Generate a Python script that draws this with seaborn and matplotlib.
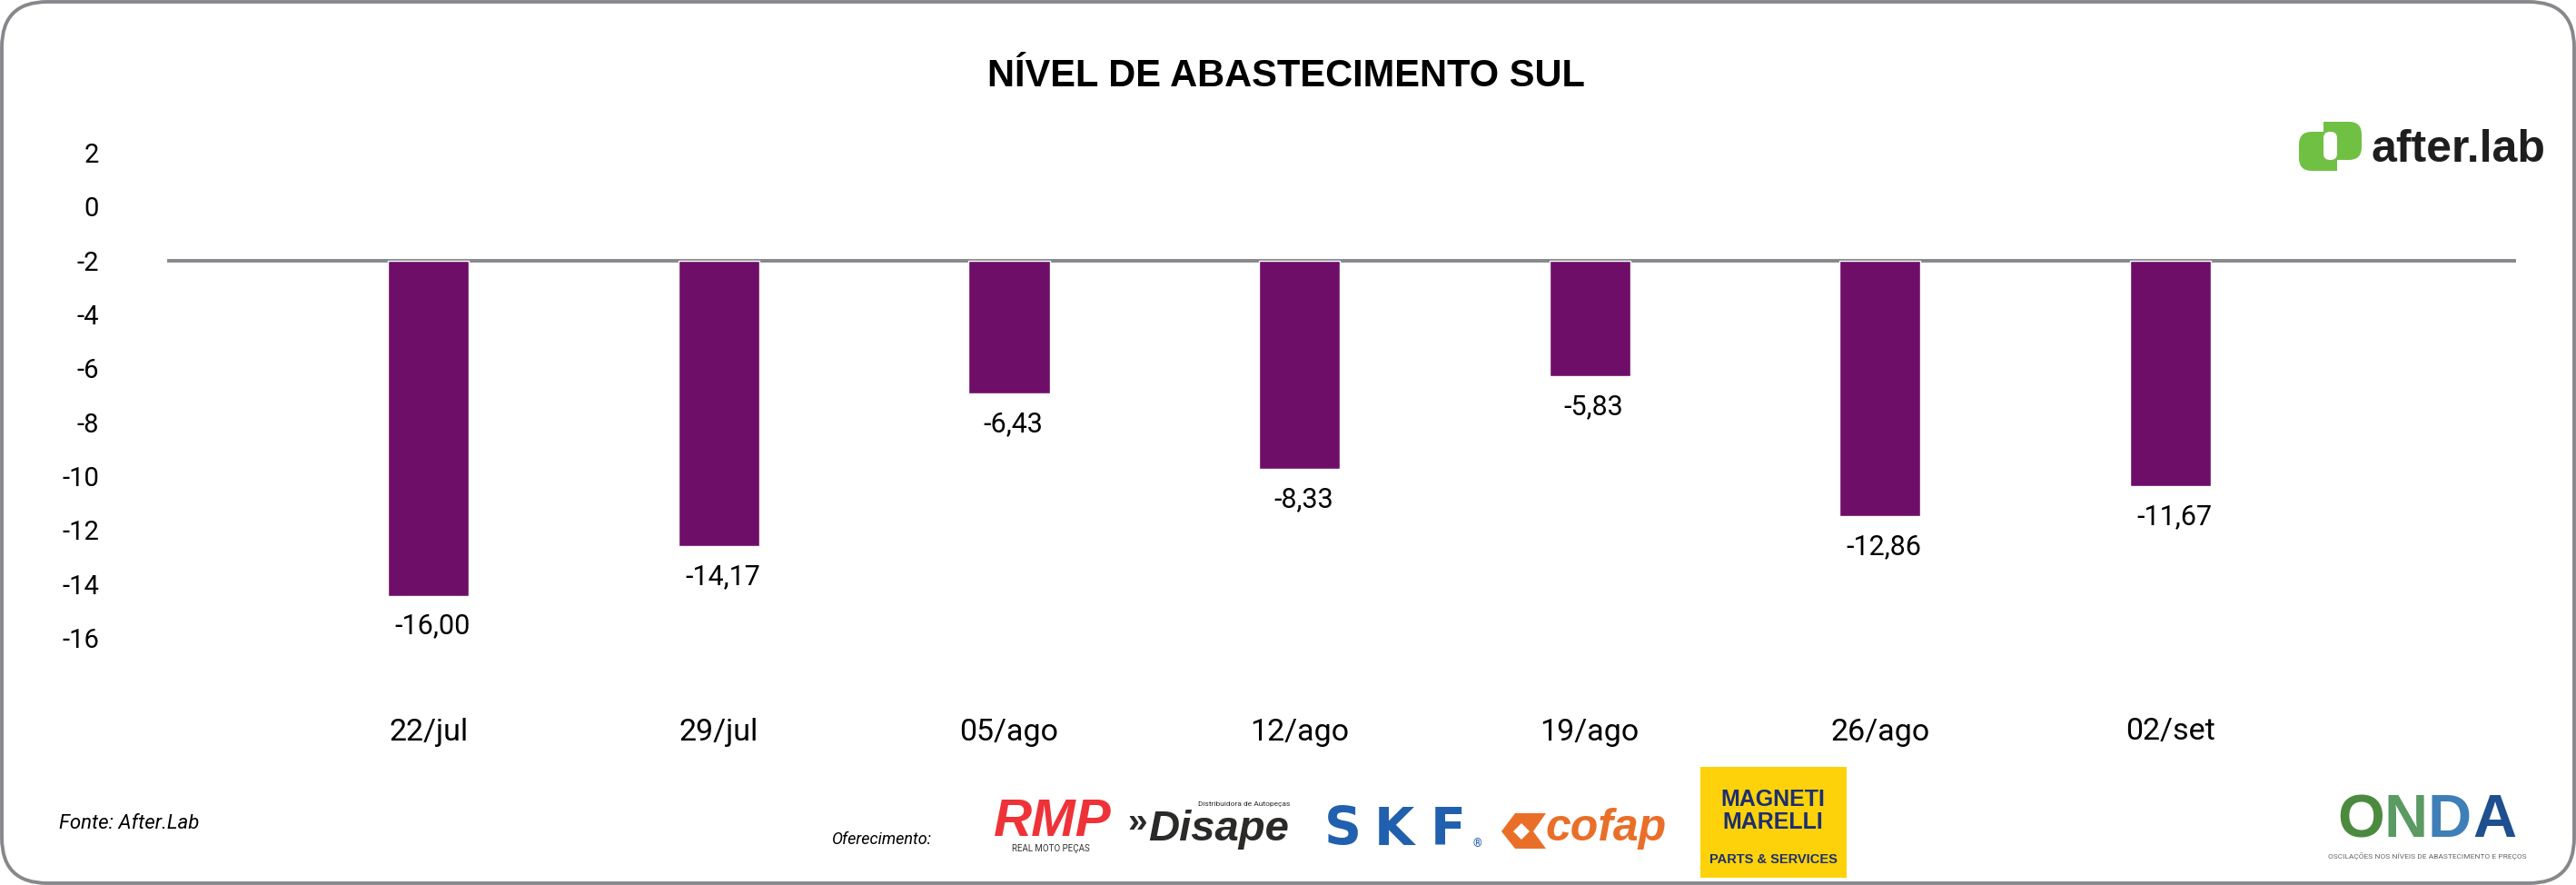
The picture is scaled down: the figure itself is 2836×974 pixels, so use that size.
import matplotlib
matplotlib.use("Agg")
import matplotlib.pyplot as plt
import pandas as pd
import seaborn as sns
from matplotlib.patches import FancyBboxPatch, Polygon, Rectangle
from matplotlib.transforms import IdentityTransform

semanas = ["22/jul", "29/jul", "05/ago", "12/ago", "19/ago", "26/ago", "02/set"]
# where each bar stops against the y axis
fim_barra = [-14.44, -12.60, -6.94, -9.74, -6.30, -11.49, -10.37]
# printed labels do not follow the axis in the original
rotulos = ["-16,00", "-14,17", "-6,43", "-8,33", "-5,83", "-12,86", "-11,67"]
base = -2
ticks_y = [2, 0, -2, -4, -6, -8, -10, -12, -14, -16]

W, H = 2836, 974
ROXO = "#6f0e69"
CINZA = "#87888b"
FONTE = "Roboto"

sns.set_theme(style="white")
plt.rcParams["font.family"] = [FONTE, "DejaVu Sans"]

df = pd.DataFrame({"Semana": semanas, "Altura": [v - base for v in fim_barra]})

fig = plt.figure(figsize=(W / 100, H / 100), dpi=100, facecolor="white")
ax = fig.add_axes([184 / W, 1 - 702 / H, (2770 - 184) / W, (702 - 168) / H])
ax.axhline(base, color=CINZA, lw=2.8, zorder=1)
sns.barplot(data=df, x="Semana", y="Altura", color=ROXO, saturation=1, width=0.2785,
            bottom=base, errorbar=None, zorder=3, ax=ax)
ax.set_xlim(-0.9, 7.19)
ax.set_ylim(-16, 2)
ax.set_yticks(ticks_y)
ax.set_yticklabels([str(t) for t in ticks_y])
ax.set(xlabel="", ylabel="")
ax.tick_params(axis="y", length=0, pad=54, labelsize=21, labelcolor="black")
ax.tick_params(axis="x", length=0, pad=63, labelsize=24.5, labelcolor="black")
sns.despine(ax=ax, left=True, bottom=True)
ax.patch.set_alpha(0)

for i, (fim, txt) in enumerate(zip(fim_barra, rotulos)):
    ax.annotate(txt, (i, fim), xytext=(3, -24), textcoords="offset points",
                ha="center", va="center", fontsize=22, color="black")


def px_text(x, y, s, **kw):
    kw.setdefault("ha", "center")
    kw.setdefault("va", "center")
    return fig.text(x / W, 1 - y / H, s, **kw)


def px_box(x0, y0, x1, y1, cor, raio=0, **kw):
    if raio:
        p = FancyBboxPatch((x0 + raio, H - y1 + raio), x1 - x0 - 2 * raio, y1 - y0 - 2 * raio,
                           boxstyle=f"round,pad={raio},rounding_size={raio}", fc=cor, ec="none",
                           transform=IdentityTransform(), **kw)
    else:
        p = Rectangle((x0, H - y1), x1 - x0, y1 - y0, fc=cor, ec="none",
                      transform=IdentityTransform(), **kw)
    fig.add_artist(p)
    return p


# moldura
fig.add_artist(FancyBboxPatch((52, 52), W - 104, H - 104, boxstyle="round,pad=50,rounding_size=50",
                              fc="none", ec=CINZA, lw=2.8, transform=IdentityTransform()))

px_text(1416, 84, "NÍVEL DE ABASTECIMENTO SUL", family="Liberation Sans", weight="bold",
        fontsize=30, color="black")
px_text(65, 907, "Fonte: After.Lab", ha="left", style="italic", fontsize=16, color="black")
px_text(916, 924, "Oferecimento:", ha="left", style="italic", fontsize=13, color="black")

# after.lab
VERDE = "#70c044"
px_box(2558, 134, 2600, 176, VERDE, raio=14)
px_box(2558, 134, 2575, 150, VERDE)
px_box(2531, 145, 2573, 188, VERDE, raio=14)
px_box(2556, 172, 2573, 188, VERDE)
px_box(2558, 145, 2573, 176, "white", raio=7)
px_text(2611, 178, "after.lab", ha="left", va="baseline", family="Liberation Sans", weight="bold",
        fontsize=36, color="#1e1e1e")

# RMP
px_text(1159, 905, "RMP", family="Liberation Sans", weight="bold", style="italic", fontsize=42, color="#ee3338")
px_text(1157, 934, "REAL MOTO PEÇAS", fontsize=7, color="#333333")

# Disape
px_text(1252, 906, "»", family="Liberation Sans", weight="bold", fontsize=28, color="#2b2a29")
px_text(1342, 913, "Disape", family="Liberation Sans", weight="bold", style="italic", fontsize=34, color="#2b2a29")
px_text(1370, 885, "Distribuidora de Autopeças", fontsize=6, color="#2b2a29")

# SKF
for x, letra in zip([1478, 1535, 1594], "SKF"):
    px_text(x, 914, letra, family="DejaVu Sans", weight="bold", fontsize=41, color="#2160ae")
px_text(1626, 929, "®", fontsize=9, color="#2160ae")

# cofap
LARANJA = "#e96f29"
fig.add_artist(Polygon([(1653, H - 915), (1668, H - 895), (1702, H - 895), (1688, H - 915), (1702, H - 934),
                        (1668, H - 934)], fc=LARANJA, ec="none", transform=IdentityTransform()))
fig.add_artist(Polygon([(1666, H - 915), (1675, H - 906), (1684, H - 915), (1675, H - 924)], fc="white", ec="none",
                       transform=IdentityTransform()))
px_text(1768, 912, "cofap", family="Liberation Sans", weight="bold", style="italic", fontsize=36, color=LARANJA)

# Magneti Marelli
px_box(1872, 844, 2033, 966, "#fdd20a")
AZUL = "#1d2f6f"
px_text(1952, 880, "MAGNETI", family="Liberation Sans", weight="bold", fontsize=18, color=AZUL)
px_text(1952, 905, "MARELLI", family="Liberation Sans", weight="bold", fontsize=18, color=AZUL)
px_text(1952, 946, "PARTS & SERVICES", family="Liberation Sans", weight="bold", fontsize=10.5, color=AZUL)

# ONDA
for x, letra, cor in zip([2599, 2649, 2697, 2746], "ONDA", ["#4c8a3f", "#5b9a63", "#3f7fb8", "#1f4f8f"]):
    px_text(x, 904, letra, family="Liberation Sans", weight="bold", fontsize=48, color=cor)
px_text(2672, 942, "OSCILAÇÕES NOS NÍVEIS DE ABASTECIMENTO E PREÇOS", fontsize=6, color="#666666")

fig.savefig("out.png", dpi=100, facecolor="white")
